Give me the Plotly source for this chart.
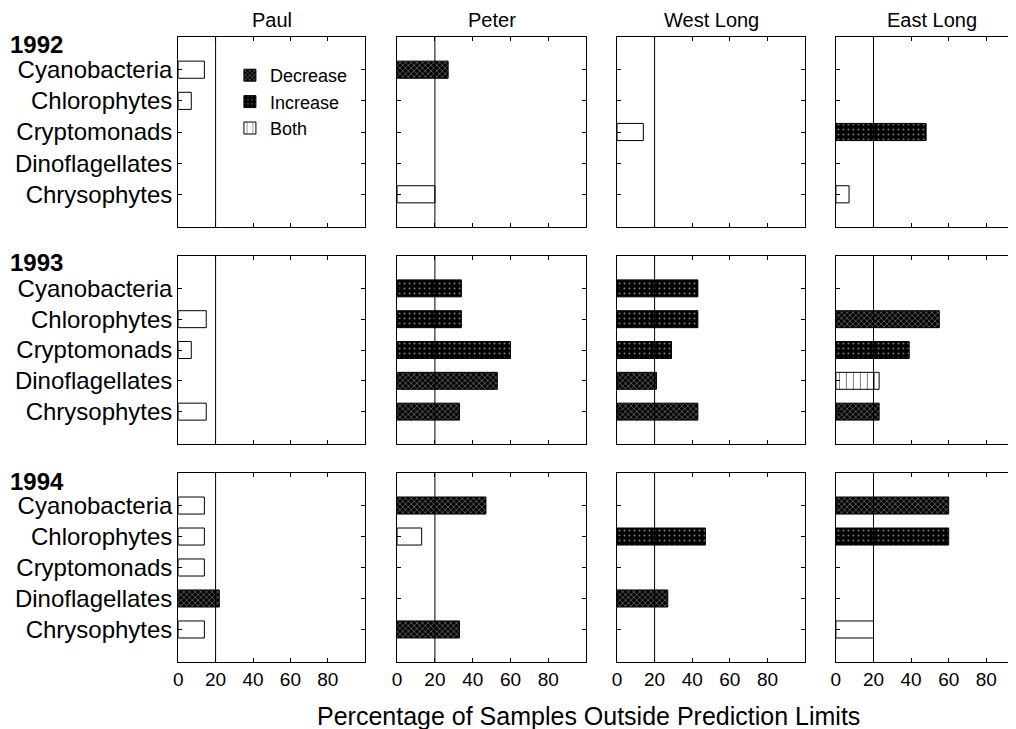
import plotly.graph_objects as go

# page is 1016x729; the plot div sits inside an 8px body margin
PAGE_W, PAGE_H, PAD = 1016, 729, 8
W, H = PAGE_W - PAD, PAGE_H - PAD
FONT = "Liberation Sans"

categories = ["Cyanobacteria", "Chlorophytes", "Cryptomonads", "Dinoflagellates", "Chrysophytes"]
lakes = ["Paul", "Peter", "West Long", "East Long"]
years = ["1992", "1993", "1994"]
x_ticks = [0, 20, 40, 60, 80]
ref_line = 20

# percentage of samples outside prediction limits
pct_1992 = {"Paul": [14, 7, 0, 0, 0], "Peter": [27, 0, 0, 0, 20],
            "West Long": [0, 0, 14, 0, 0], "East Long": [0, 0, 48, 0, 7]}
pct_1993 = {"Paul": [0, 15, 7, 0, 15], "Peter": [34, 34, 60, 53, 33],
            "West Long": [43, 43, 29, 21, 43], "East Long": [0, 55, 39, 23, 23]}
pct_1994 = {"Paul": [14, 14, 14, 22, 14], "Peter": [47, 13, 0, 0, 33],
            "West Long": [0, 47, 0, 27, 0], "East Long": [60, 60, 0, 0, 20]}

# D = Decrease, I = Increase, B = Both, O = open bar, "" = none
kind_1992 = {"Paul": ["O", "O", "", "", ""], "Peter": ["D", "", "", "", "O"],
             "West Long": ["", "", "O", "", ""], "East Long": ["", "", "I", "", "O"]}
kind_1993 = {"Paul": ["", "O", "O", "", "O"], "Peter": ["I", "I", "I", "D", "D"],
             "West Long": ["I", "I", "I", "D", "D"], "East Long": ["", "D", "I", "B", "D"]}
kind_1994 = {"Paul": ["O", "O", "O", "D", "O"], "Peter": ["D", "O", "", "", "D"],
             "West Long": ["", "I", "", "D", ""], "East Long": ["D", "I", "", "", "O"]}

pct = {"1992": pct_1992, "1993": pct_1993, "1994": pct_1994}
kind = {"1992": kind_1992, "1993": kind_1993, "1994": kind_1994}

styles = {
    "D": dict(name="Decrease", rank=1,
              marker=dict(color="black", line=dict(color="black", width=1),
                          pattern=dict(shape="x", fgcolor="white", bgcolor="black", size=4, solidity=0.3))),
    "I": dict(name="Increase", rank=2,
              marker=dict(color="black", line=dict(color="black", width=1),
                          pattern=dict(shape=".", fgcolor="white", bgcolor="black", size=5, solidity=0.12))),
    "B": dict(name="Both", rank=3,
              marker=dict(color="white", line=dict(color="black", width=1),
                          pattern=dict(shape="|", fgcolor="black", bgcolor="white", size=7, solidity=0.15))),
    "O": dict(name="Open", rank=4,
              marker=dict(color="white", line=dict(color="black", width=1))),
}


def fx(p):
    return (p - PAD) / W


def fy(p):
    return 1 - (p - PAD) / H


# panel geometry in page pixels
col_px = [(174, 362), (394, 584), (615, 804), (835, PAGE_W)]
col_xmax = [100, 100, 100, 95.8]
row_px = [(37, 227), (256, 444), (473, 662)]
year_y = [45, 262, 481]

fig = go.Figure()
layout = {}
shapes = []
annotations = []
legend_done = set()

for r, yr in enumerate(years):
    for c, lake in enumerate(lakes):
        k = r * 4 + c + 1
        xa = "x" if k == 1 else f"x{k}"
        ya = "y" if k == 1 else f"y{k}"
        vals = pct[yr][lake]
        kinds = kind[yr][lake]
        for code in ["D", "I", "B", "O"]:
            xs = [v for v, kd in zip(vals, kinds) if kd == code]
            ys = [i for i, kd in enumerate(kinds) if kd == code]
            if not xs:
                continue
            st = styles[code]
            show = code != "O" and code not in legend_done
            if show:
                legend_done.add(code)
            fig.add_trace(go.Bar(
                x=xs, y=ys, orientation="h", width=0.55,
                name=st["name"], legendgroup=st["name"], legendrank=st["rank"],
                showlegend=show, marker=st["marker"],
                xaxis=xa, yaxis=ya, hoverinfo="skip"))
        x0, x1 = col_px[c]
        y0, y1 = row_px[r]
        layout["xaxis" if k == 1 else f"xaxis{k}"] = dict(
            domain=[fx(x0), fx(x1)], anchor=ya, range=[0, col_xmax[c]],
            tickvals=x_ticks, showticklabels=(r == 2),
            ticks="inside", ticklen=4, tickcolor="black",
            showline=True, linecolor="black", linewidth=1, mirror="allticks",
            showgrid=False, zeroline=False,
            tickfont=dict(family=FONT, size=19, color="black"))
        layout["yaxis" if k == 1 else f"yaxis{k}"] = dict(
            domain=[fy(y1), fy(y0)], anchor=xa, range=[5.05, -1.05],
            tickvals=list(range(len(categories))), ticktext=categories,
            showticklabels=(c == 0),
            ticks="inside", ticklen=4, tickcolor="black",
            showline=True, linecolor="black", linewidth=1,
            mirror=("allticks" if c < 3 else False),
            showgrid=False, zeroline=False,
            tickfont=dict(family=FONT, size=24, color="black"))
        shapes.append(dict(type="line", xref=xa, yref=f"{ya} domain",
                           x0=ref_line, x1=ref_line, y0=0, y1=1,
                           line=dict(color="black", width=1)))
        if r == 0:
            annotations.append(dict(text=lake, xref="paper", yref="paper",
                                    x=fx((x0 + x1) / 2 if c < 3 else 932), y=1.0,
                                    showarrow=False, xanchor="center", yanchor="top",
                                    borderpad=0,
                                    font=dict(family=FONT, size=20, color="black")))
    annotations.append(dict(text=f"<b>{yr}</b>", xref="paper", yref="paper",
                            x=fx(3), y=fy(year_y[r]),
                            showarrow=False, xanchor="left", yanchor="middle",
                            font=dict(family=FONT, size=24, color="black")))

annotations.append(dict(text="Percentage of Samples Outside Prediction Limits",
                        xref="paper", yref="paper", x=fx(586), y=fy(716),
                        showarrow=False, xanchor="center", yanchor="middle",
                        font=dict(family=FONT, size=25, color="black")))

fig.update_layout(
    width=W, height=H, margin=dict(l=0, r=0, t=0, b=0),
    paper_bgcolor="white", plot_bgcolor="white", barmode="overlay",
    shapes=shapes, annotations=annotations,
    legend=dict(x=fx(226), y=fy(57), xanchor="left", yanchor="top",
                bgcolor="rgba(0,0,0,0)", font=dict(family=FONT, size=18, color="black"),
                tracegroupgap=0, itemwidth=30),
    **layout)

fig.write_html("out.html")
